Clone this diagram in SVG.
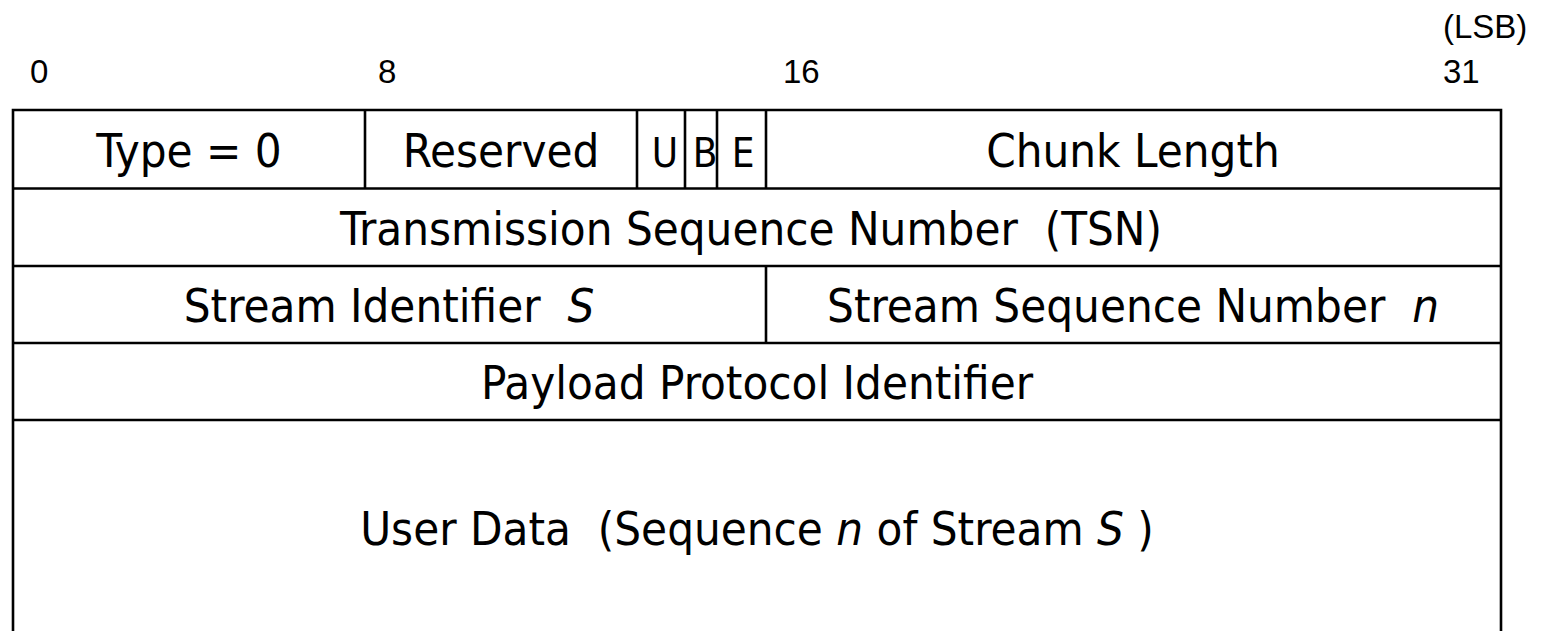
<svg xmlns="http://www.w3.org/2000/svg" width="1541" height="631" viewBox="0 0 1541 631">
  <style>
    .bit { font-family: "Liberation Sans", Arial, sans-serif; font-size: 33px; fill: #000; }
    .fld { font-family: "DejaVu Sans Condensed", "DejaVu Sans", sans-serif; font-stretch: condensed; font-size: 47px; fill: #000; text-anchor: middle; }
    .flag { font-size: 40px; }
    .it { font-style: italic; }
    .sep { stroke: #000; stroke-width: 2.6; fill: none; }
  </style>
  <rect width="1541" height="631" fill="#fff"/>

  <!-- bit numbering -->
  <g id="bit-labels">
    <text class="bit" x="30" y="83">0</text>
    <text class="bit" x="378" y="83">8</text>
    <text class="bit" x="783" y="83">16</text>
    <text class="bit" x="1443" y="83">31</text>
    <text class="bit" x="1443" y="38">(LSB)</text>
  </g>

  <!-- outer frame (open at the bottom edge of the canvas) -->
  <g id="frame">
    <path class="sep" d="M13,640 V110 H1501 V640"/>
  </g>

  <!-- row separators and field dividers -->
  <g id="connectors">
    <line class="sep" x1="13" y1="188.5" x2="1501" y2="188.5"/>
    <line class="sep" x1="13" y1="266" x2="1501" y2="266"/>
    <line class="sep" x1="13" y1="343" x2="1501" y2="343"/>
    <line class="sep" x1="13" y1="420" x2="1501" y2="420"/>
    <line class="sep" x1="365" y1="110" x2="365" y2="188.5"/>
    <line class="sep" x1="637" y1="110" x2="637" y2="188.5"/>
    <line class="sep" x1="685" y1="110" x2="685" y2="188.5"/>
    <line class="sep" x1="717" y1="110" x2="717" y2="188.5"/>
    <line class="sep" x1="766" y1="110" x2="766" y2="188.5"/>
    <line class="sep" x1="766" y1="266" x2="766" y2="343"/>
  </g>

  <g id="type"><text class="fld" x="189" y="167" xml:space="preserve">Type = 0</text></g>
  <g id="reserved"><text class="fld" x="501" y="167">Reserved</text></g>
  <g id="flag-u"><text class="fld flag" x="665" y="167">U</text></g>
  <g id="flag-b"><text class="fld flag" x="705" y="167">B</text></g>
  <g id="flag-e"><text class="fld flag" x="743" y="167">E</text></g>
  <g id="chunk-length"><text class="fld" x="1133" y="167">Chunk Length</text></g>
  <g id="tsn"><text class="fld" x="751" y="245" xml:space="preserve">Transmission Sequence Number  (TSN)</text></g>
  <g id="stream-id"><text class="fld" x="389" y="322" xml:space="preserve">Stream Identifier  <tspan class="it">S</tspan></text></g>
  <g id="stream-seq"><text class="fld" x="1133" y="322" xml:space="preserve">Stream Sequence Number  <tspan class="it">n</tspan></text></g>
  <g id="ppid"><text class="fld" x="757" y="399">Payload Protocol Identifier</text></g>
  <g id="user-data"><text class="fld" x="757" y="545" xml:space="preserve">User Data  (Sequence <tspan class="it">n</tspan> of Stream <tspan class="it">S</tspan> )</text></g>
</svg>
